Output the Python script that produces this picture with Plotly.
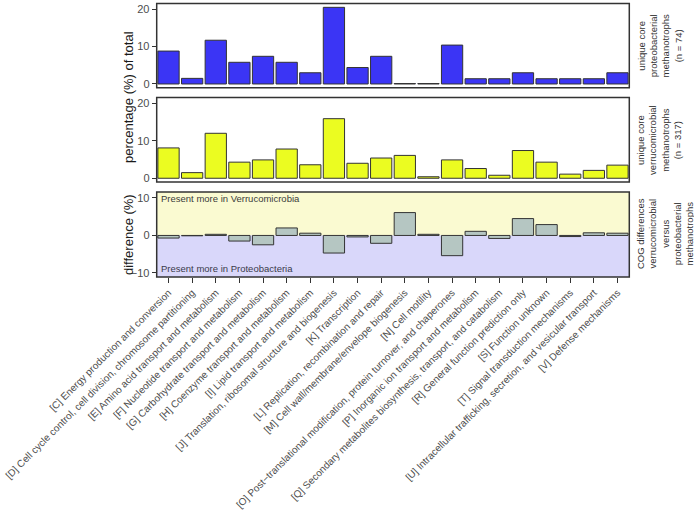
import plotly.graph_objects as go

categories = [
    "[C] Energy production and conversion",
    "[D] Cell cycle control, cell division, chromosome partitioning",
    "[E] Amino acid transport and metabolism",
    "[F] Nucleotide transport and metabolism",
    "[G] Carbohydrate transport and metabolism",
    "[H] Coenzyme transport and metabolism",
    "[I] Lipid transport and metabolism",
    "[J] Translation, ribosomal structure and biogenesis",
    "[K] Transcription",
    "[L] Replication, recombination and repair",
    "[M] Cell wall/membrane/envelope biogenesis",
    "[N] Cell motility",
    "[O] Post\u2212translational modification, protein turnover, and chaperones",
    "[P] Inorganic ion transport and metabolism",
    "[Q] Secondary metabolites biosynthesis, transport, and catabolism",
    "[R] General function prediction only",
    "[S] Function unknown",
    "[T] Signal transduction mechanisms",
    "[U] Intracellular trafficking, secretion, and vesicular transport",
    "[V] Defense mechanisms",
]

proteo_pct = [8.8, 1.5, 11.7, 5.8, 7.4, 5.8, 3.0, 20.5, 4.4, 7.4,
              0.12, 0.12, 10.4, 1.4, 1.4, 3.0, 1.4, 1.4, 1.4, 3.0]
verruco_pct = [8.1, 1.5, 12.0, 4.3, 4.9, 7.8, 3.6, 15.9, 4.0, 5.4,
               6.1, 0.4, 4.9, 2.6, 0.8, 7.4, 4.3, 1.1, 2.1, 3.5]
diff_pct = [-0.7, -0.1, 0.3, -1.5, -2.5, 2.0, 0.6, -4.7, -0.4, -2.1,
            6.1, 0.3, -5.4, 1.1, -0.8, 4.5, 2.9, -0.3, 0.7, 0.6]

pct_ticks = [0, 10, 20]
diff_ticks = [-10, 0, 10]

W, H = 694, 514
def px(x): return x / W
def py(y): return (H - y) / H

FONT = "Liberation Sans, Arial, sans-serif"
LINE = "#333333"
TICKC = "#4d4d4d"

fig = go.Figure()
fig.add_trace(go.Bar(x=categories, y=proteo_pct, xaxis="x", yaxis="y",
                     marker=dict(color="#3b35f5", line=dict(color=LINE, width=1)), width=0.9))
fig.add_trace(go.Bar(x=categories, y=verruco_pct, xaxis="x2", yaxis="y2",
                     marker=dict(color="#ebfc21", line=dict(color=LINE, width=1)), width=0.9))
fig.add_trace(go.Bar(x=categories, y=diff_pct, xaxis="x3", yaxis="y3",
                     marker=dict(color="#b5c6c2", line=dict(color=LINE, width=1)), width=0.9))

xdom = [px(156.7), px(629.3)]
ydoms = [[py(87.8), py(3.5)], [py(182.1), py(97.6)], [py(277), py(192)]]

common_x = dict(domain=xdom, categoryorder="array", categoryarray=categories,
                range=[-0.5, len(categories) - 0.5], showgrid=False, zeroline=False)
fig.update_layout(
    xaxis=dict(**common_x, anchor="y", showticklabels=False, ticks=""),
    xaxis2=dict(**common_x, anchor="y2", showticklabels=False, ticks=""),
    xaxis3=dict(**common_x, anchor="y3", showticklabels=True, ticks="outside",
                ticklen=5, tickwidth=1, tickcolor=LINE, tickangle=-45,
                tickfont=dict(family=FONT, size=10, color=TICKC), automargin=False),
)
common_y = dict(showgrid=False, zeroline=False, ticks="outside", ticklen=4, tickwidth=1,
                tickcolor=LINE, tickfont=dict(family=FONT, size=11, color=TICKC),
                automargin=False)
fig.update_layout(
    yaxis=dict(**common_y, domain=ydoms[0], anchor="x", range=[-1.025, 21.525], tickvals=pct_ticks),
    yaxis2=dict(**common_y, domain=ydoms[1], anchor="x2", range=[-1.025, 21.525], tickvals=pct_ticks),
    yaxis3=dict(**common_y, domain=ydoms[2], anchor="x3", range=[-11.1, 11.6], tickvals=diff_ticks),
)

shapes = []
shapes.append(dict(type="rect", xref="x3 domain", yref="y3", x0=0, x1=1, y0=0, y1=11.6,
                   fillcolor="#fafad1", line=dict(width=0), layer="below"))
shapes.append(dict(type="rect", xref="x3 domain", yref="y3", x0=0, x1=1, y0=-11.1, y1=0,
                   fillcolor="#d9d7fa", line=dict(width=0), layer="below"))
for xr, yr in [("x", "y"), ("x2", "y2"), ("x3", "y3")]:
    shapes.append(dict(type="rect", xref=xr + " domain", yref=yr + " domain", x0=0, x1=1, y0=0, y1=1,
                       line=dict(color=LINE, width=1.5), fillcolor="rgba(0,0,0,0)", layer="above"))

def ann(text, x, y, size, color, angle=0, xanchor="center"):
    return dict(text=text, x=px(x), y=py(y), xref="paper", yref="paper", textangle=angle,
                xanchor=xanchor, yanchor="middle", showarrow=False,
                font=dict(family=FONT, size=size, color=color))

annotations = [
    ann("percentage (%) of total", 128, 97, 13, "#1a1a1a", -90),
    ann("difference (%)", 128, 234, 13, "#1a1a1a", -90),
    ann("unique core<br>proteobacterial<br>methanotrophs<br>(n = 74)", 659, 45.5, 9.5, "#333333", -90),
    ann("unique core<br>verrucomicrobial<br>methanotrophs<br>(n = 317)", 659, 140, 9.5, "#333333", -90),
    ann("COG differences<br>verrucomicrobial<br>versus<br>proteobacterial<br>methanotrophs",
        665, 234, 9.5, "#333333", -90),
    ann("Present more in Verrucomicrobia", 159, 199, 9.5, "#3a3a3a", 0, "left"),
    ann("Present more in Proteobacteria", 159, 269, 9.5, "#3a3a4a", 0, "left"),
]

fig.update_layout(
    width=W, height=H, margin=dict(l=0, r=0, t=0, b=0),
    paper_bgcolor="white", plot_bgcolor="rgba(0,0,0,0)",
    showlegend=False, bargap=0.1, shapes=shapes, annotations=annotations,
    font=dict(family=FONT),
)

fig.write_html("out.html", config={"displayModeBar": False},
               post_script="document.body.style.margin='0';document.body.style.padding='0';")
